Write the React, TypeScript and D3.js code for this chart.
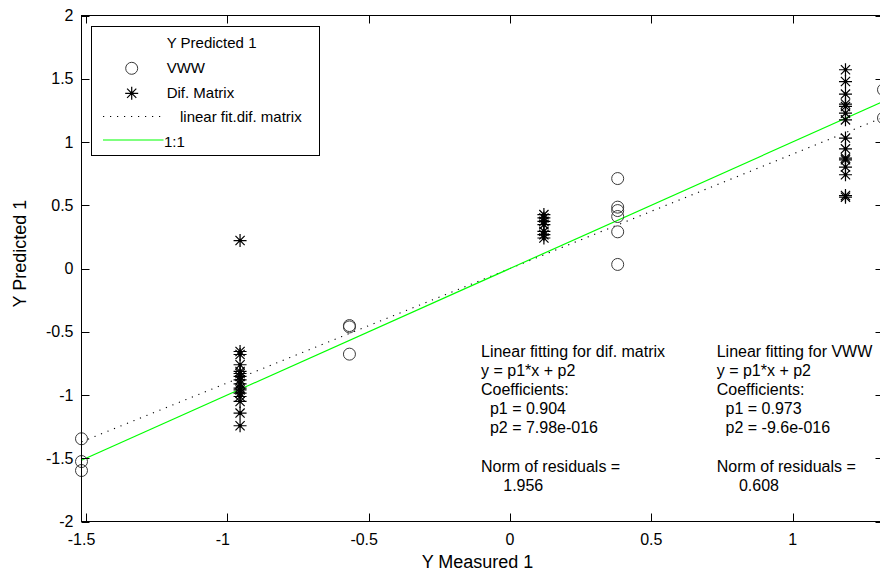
import React from 'react';
import * as d3 from 'd3';

// ---- data ----
const X_LIMITS = [-1.516, 1.3215];
const Y_LIMITS = [-2, 2];
const X_TICKS = [-1.5, -1, -0.5, 0, 0.5, 1];
const Y_TICKS = [-2, -1.5, -1, -0.5, 0, 0.5, 1, 1.5, 2];

const VWW_X = [
  -1.516, -1.516, -1.516,
  -0.568, -0.568, -0.568,
  0.381, 0.381, 0.381, 0.381, 0.381, 0.381,
  1.3215, 1.3215,
];
const VWW_Y = [
  -1.346, -1.526, -1.597,
  -0.451, -0.462, -0.677,
  0.711, 0.485, 0.458, 0.411, 0.29, 0.032,
  1.413, 1.19,
];

const DIF_X = [
  -0.955, -0.955, -0.955, -0.955, -0.955, -0.955, -0.955, -0.955, -0.955, -0.955,
  -0.955, -0.955, -0.955, -0.955, -0.955, -0.955,
  0.12, 0.12, 0.12, 0.12, 0.12, 0.12, 0.12,
  1.187, 1.187, 1.187, 1.187, 1.187, 1.187, 1.187, 1.187, 1.187, 1.187,
  1.187, 1.187, 1.187, 1.187, 1.187,
];
const DIF_Y = [
  0.221, -0.656, -0.68, -0.761, -0.814, -0.83, -0.853, -0.88, -0.912, -0.945,
  -0.96, -0.985, -1.012, -1.051, -1.143, -1.243,
  0.426, 0.4, 0.373, 0.347, 0.294, 0.267, 0.241,
  1.571, 1.478, 1.379, 1.3, 1.281, 1.228, 1.175, 1.031, 0.946, 0.873,
  0.859, 0.802, 0.741, 0.577, 0.564,
];

const FIT_P1 = 0.904;
const FIT_P2 = 7.98e-16;

const LEGEND_TITLE = 'Y Predicted 1';
const LEGEND_LABELS = ['VWW', 'Dif. Matrix', 'linear fit.dif. matrix', '1:1'];

const FIT_TEXT_DIF = [
  'Linear fitting for dif. matrix',
  'y = p1*x + p2',
  'Coefficients:',
  '  p1 = 0.904',
  '  p2 = 7.98e-016',
  '',
  'Norm of residuals = ',
  '     1.956',
];
const FIT_TEXT_VWW = [
  'Linear fitting for VWW',
  'y = p1*x + p2',
  'Coefficients:',
  '  p1 = 0.973',
  '  p2 = -9.6e-016',
  '',
  'Norm of residuals = ',
  '     0.608',
];

const X_LABEL = 'Y Measured 1';
const Y_LABEL = 'Y Predicted 1';

const FONT = '"Liberation Sans", Arial, sans-serif';

function Star({ cx, cy }: { cx: number; cy: number }) {
  const a = 6.5;
  const d = 4.6;
  const path = `M${cx - a},${cy}H${cx + a}M${cx},${cy - a}V${cy + a}` +
    `M${cx - d},${cy - d}L${cx + d},${cy + d}M${cx - d},${cy + d}L${cx + d},${cy - d}`;
  return (
    <g>
      <path d={path} stroke="#000" strokeWidth={1.2} fill="none" />
      <circle cx={cx} cy={cy} r={1.8} fill="#000" />
    </g>
  );
}

export default function App() {
  const left = 81.5, right = 883.5, top = 15.5, bottom = 521.5;
  const x = d3.scaleLinear().domain(X_LIMITS).range([left, right]);
  const y = d3.scaleLinear().domain(Y_LIMITS).range([bottom, top]);

  const line = d3.line<number>().x((v) => x(v)).y((v) => y(v));
  const oneToOne = line(X_LIMITS)!;
  const fitLine = d3
    .line<number>()
    .x((v) => x(v))
    .y((v) => y(FIT_P1 * v + FIT_P2))(X_LIMITS)!;

  const tickLen = 8;

  return (
    <svg
      width={880}
      height={573}
      style={{ position: 'absolute', left: 0, top: 0, background: '#fff' }}
      fontFamily={FONT}
    >
      <rect x={0} y={0} width={880} height={573} fill="#fff" />
      <defs>
        <clipPath id="plotclip">
          <rect x={left} y={top} width={right - left} height={bottom - top} />
        </clipPath>
      </defs>

      {/* lines */}
      <g clipPath="url(#plotclip)">
        <path d={fitLine} stroke="#000" strokeWidth={1.1} strokeDasharray="1.2,5.8" fill="none" />
        <path d={oneToOne} stroke="#00ff00" strokeWidth={1.2} fill="none" />
      </g>

      {/* markers */}
      {VWW_X.map((vx, i) => (
        <circle key={'v' + i} cx={x(vx)} cy={y(VWW_Y[i])} r={6} fill="none" stroke="#3a3a3a" strokeWidth={1} />
      ))}
      {DIF_X.map((dx, i) => (
        <Star key={'d' + i} cx={x(dx)} cy={y(DIF_Y[i])} />
      ))}

      {/* axes box */}
      <rect x={left} y={top} width={right - left} height={bottom - top} fill="none" stroke="#000" strokeWidth={1} />
      {X_TICKS.map((t) => (
        <g key={'xt' + t}>
          <line x1={Math.round(x(t)) + 0.5} x2={Math.round(x(t)) + 0.5} y1={bottom} y2={bottom - tickLen} stroke="#000" />
          <line x1={Math.round(x(t)) + 0.5} x2={Math.round(x(t)) + 0.5} y1={top} y2={top + tickLen} stroke="#000" />
          <text
            x={x(t) + (t < 0 ? -4.5 : 0)}
            y={545}
            fontSize={16}
            textAnchor="middle"
          >
            {String(t)}
          </text>
        </g>
      ))}
      {Y_TICKS.map((t) => (
        <g key={'yt' + t}>
          <line x1={left} x2={left + tickLen} y1={Math.round(y(t)) + 0.5} y2={Math.round(y(t)) + 0.5} stroke="#000" />
          <line x1={right} x2={right - tickLen} y1={Math.round(y(t)) + 0.5} y2={Math.round(y(t)) + 0.5} stroke="#000" />
          <text x={73.5} y={y(t)} dy="0.35em" fontSize={16} textAnchor="end">
            {String(t)}
          </text>
        </g>
      ))}

      {/* axis labels */}
      <text x={477.5} y={568} fontSize={18} textAnchor="middle">
        {X_LABEL}
      </text>
      <text transform="translate(26,253.5) rotate(-90)" fontSize={18} textAnchor="middle">
        {Y_LABEL}
      </text>

      {/* legend */}
      <g>
        <rect x={91.5} y={26.5} width={228} height={129} fill="#fff" stroke="#000" strokeWidth={1} />
        <text x={166.7} y={48.3} fontSize={15}>{LEGEND_TITLE}</text>
        <circle cx={131.7} cy={68.3} r={6} fill="none" stroke="#3a3a3a" strokeWidth={1} />
        <text x={166.7} y={73.3} fontSize={15}>{LEGEND_LABELS[0]}</text>
        <Star cx={131.7} cy={93.3} />
        <text x={166.7} y={98.3} fontSize={15}>{LEGEND_LABELS[1]}</text>
        <line x1={103} x2={163.5} y1={116.5} y2={116.5} stroke="#000" strokeWidth={1.1} strokeDasharray="1.2,5.8" />
        <text x={180} y={121.7} fontSize={15}>{LEGEND_LABELS[2]}</text>
        <line x1={103} x2={163.5} y1={140} y2={140} stroke="#00ff00" strokeWidth={1.2} />
        <text x={164} y={146.7} fontSize={15}>{LEGEND_LABELS[3]}</text>
      </g>

      {/* fit annotations */}
      {FIT_TEXT_DIF.map((s, i) => (
        <text key={'a' + i} x={481} y={356.7 + i * 19.15} fontSize={16} style={{ whiteSpace: 'pre' }}>
          {s}
        </text>
      ))}
      {FIT_TEXT_VWW.map((s, i) => (
        <text key={'b' + i} x={716.7} y={356.7 + i * 19.15} fontSize={16} style={{ whiteSpace: 'pre' }}>
          {s}
        </text>
      ))}
    </svg>
  );
}
